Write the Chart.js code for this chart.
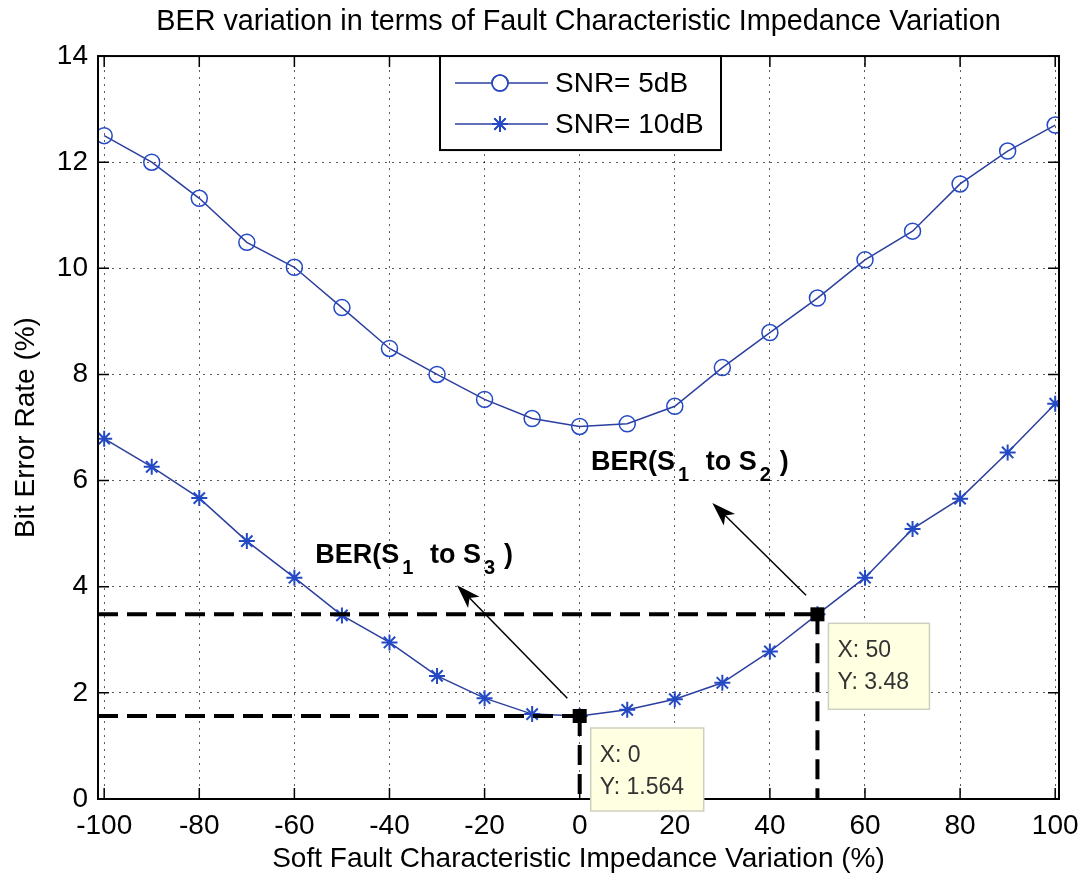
<!DOCTYPE html>
<html>
<head>
<meta charset="utf-8">
<script src="https://cdn.jsdelivr.net/npm/chart.js@4.4.0/dist/chart.umd.min.js"></script>
<style>
  html, body { margin: 0; padding: 0; background: #fff; }
  #wrap { width: 1079px; height: 878px; }
</style>
</head>
<body>
<div id="wrap"><canvas id="ber-chart" width="1079" height="878"></canvas></div>
<script>
// values
const impedanceVariation = [-100, -90, -80, -70, -60, -50, -40, -30, -20, -10, 0, 10, 20, 30, 40, 50, 60, 70, 80, 90, 100];
const berSnr5 = [12.50, 12.00, 11.32, 10.49, 10.02, 9.26, 8.49, 8.00, 7.53, 7.17, 7.02, 7.07, 7.40, 8.13, 8.79, 9.44, 10.16, 10.70, 11.59, 12.21, 12.70];
const berSnr10 = [6.79, 6.26, 5.67, 4.86, 4.17, 3.46, 2.95, 2.32, 1.90, 1.60, 1.564, 1.68, 1.88, 2.19, 2.78, 3.48, 4.17, 5.09, 5.66, 6.53, 7.45];
const seriesLabels = ['SNR= 5dB', 'SNR= 10dB'];
const xTickValues = [-100, -80, -60, -40, -20, 0, 20, 40, 60, 80, 100];
const yTickValues = [0, 2, 4, 6, 8, 10, 12, 14];

// data cursor points on the 10dB curve
const markedX = [0, 50];
const markedY = [1.564, 3.48];
// arrows and notes, in data units
const arrowTails = [[-2.6, 1.90], [47.6, 3.84]];
const arrowTips = [[-25.8, 4.03], [27.9, 5.58]];
const noteAnchors = [[-55.6, 4.45], [2.4, 6.2]];
const noteTargets = ['3', '2'];

const plotFont = "'Liberation Sans', Arial, Helvetica, sans-serif";
const lineBlue = '#2b3f9e';
const markerBlue = '#2449c4';

Chart.defaults.font.family = plotFont;
Chart.defaults.color = '#000';

function drawArrow(ctx, x0, y0, x1, y1) {
    const ang = Math.atan2(y1 - y0, x1 - x0);
    const len = 24, half = 8, notch = 6;
    ctx.beginPath();
    ctx.moveTo(x0, y0);
    ctx.lineTo(x1 - Math.cos(ang) * (len - notch), y1 - Math.sin(ang) * (len - notch));
    ctx.stroke();
    ctx.save();
    ctx.translate(x1, y1);
    ctx.rotate(ang);
    ctx.beginPath();
    ctx.moveTo(0, 0);
    ctx.lineTo(-len, -half);
    ctx.lineTo(-len + notch, 0);
    ctx.lineTo(-len, half);
    ctx.closePath();
    ctx.fill();
    ctx.restore();
}

function drawNote(ctx, x, y, target) {
    const parts = [['BER(S', false], ['1', true], [' to S', false], [target, true], [')', false]];
    let cx = x;
    ctx.textAlign = 'left';
    ctx.textBaseline = 'alphabetic';
    parts.forEach(([txt, sub]) => {
        ctx.font = sub ? `bold 20px ${plotFont}` : `bold 27px ${plotFont}`;
        if (sub) cx += 2;
        ctx.fillText(txt, cx, sub ? y + 11 : y);
        cx += ctx.measureText(txt).width + (sub ? 9 : 1);
    });
}

const matlabAxes = {
    id: 'matlabAxes',
    afterDraw(chart) {
        const ctx = chart.ctx;
        const {left, right, top, bottom} = chart.chartArea;
        const xs = chart.scales.x, ys = chart.scales.y;
        ctx.save();

        // box and inward ticks
        ctx.strokeStyle = '#000';
        ctx.lineWidth = 1.5;
        ctx.beginPath();
        xTickValues.forEach(v => {
            const px = xs.getPixelForValue(v);
            ctx.moveTo(px, bottom); ctx.lineTo(px, bottom - 11);
            ctx.moveTo(px, top); ctx.lineTo(px, top + 11);
        });
        yTickValues.forEach(v => {
            const py = ys.getPixelForValue(v);
            ctx.moveTo(left, py); ctx.lineTo(left + 11, py);
            ctx.moveTo(right, py); ctx.lineTo(right - 11, py);
        });
        ctx.stroke();
        ctx.lineWidth = 2;
        ctx.strokeRect(left, top, right - left, bottom - top);

        // dashed guide lines to the marked points
        ctx.lineWidth = 4;
        ctx.setLineDash([20, 9]);
        markedX.forEach((mx, i) => {
            const px = xs.getPixelForValue(mx), py = ys.getPixelForValue(markedY[i]);
            ctx.beginPath();
            ctx.moveTo(left, py); ctx.lineTo(px, py);
            ctx.moveTo(px, py); ctx.lineTo(px, bottom);
            ctx.stroke();
        });
        ctx.setLineDash([]);

        // data cursor squares and tips
        markedX.forEach((mx, i) => {
            const px = xs.getPixelForValue(mx), py = ys.getPixelForValue(markedY[i]);
            ctx.fillStyle = '#000';
            ctx.fillRect(px - 7, py - 7, 14, 14);
            const bx = px + 11, by = py + (i === 0 ? 12 : 9);
            const bw = i === 0 ? 113 : 101, bh = i === 0 ? 83 : 86;
            ctx.fillStyle = '#ffffe1';
            ctx.fillRect(bx, by, bw, bh);
            ctx.strokeStyle = '#cfcfbf';
            ctx.lineWidth = 1.5;
            ctx.strokeRect(bx, by, bw, bh);
            ctx.fillStyle = '#333';
            ctx.font = `23px ${plotFont}`;
            ctx.textAlign = 'left';
            ctx.textBaseline = 'alphabetic';
            ctx.fillText('X: ' + mx, bx + 9, by + 34);
            ctx.fillText('Y: ' + markedY[i], bx + 9, by + 66);
        });

        // arrows and bold notes
        ctx.strokeStyle = '#000';
        ctx.fillStyle = '#000';
        ctx.lineWidth = 1.5;
        arrowTails.forEach((t, i) => {
            drawArrow(ctx,
                xs.getPixelForValue(t[0]), ys.getPixelForValue(t[1]),
                xs.getPixelForValue(arrowTips[i][0]), ys.getPixelForValue(arrowTips[i][1]));
        });
        noteAnchors.forEach((a, i) => {
            drawNote(ctx, xs.getPixelForValue(a[0]), ys.getPixelForValue(a[1]), noteTargets[i]);
        });

        // legend box
        const lg = {left: 440, right: 721, top: top, bottom: top + 94};
        ctx.fillStyle = '#fff';
        ctx.fillRect(lg.left, lg.top, lg.right - lg.left, lg.bottom - lg.top);
        ctx.strokeStyle = '#000';
        ctx.lineWidth = 2;
        ctx.strokeRect(lg.left, lg.top, lg.right - lg.left, lg.bottom - lg.top);
        chart.data.datasets.forEach((ds, i) => {
            const ry = lg.top + 27 + i * 41;
            ctx.strokeStyle = ds.borderColor;
            ctx.lineWidth = ds.borderWidth;
            ctx.beginPath();
            ctx.moveTo(lg.left + 15, ry); ctx.lineTo(lg.left + 108, ry);
            ctx.stroke();
            Chart.helpers.drawPoint(ctx, {
                pointStyle: ds.pointStyle, radius: ds.pointRadius, borderWidth: ds.pointBorderWidth, rotation: 0
            }, lg.left + 60, ry);
            ctx.strokeStyle = ds.pointBorderColor;
            ctx.lineWidth = ds.pointBorderWidth;
            ctx.stroke();
            ctx.fillStyle = '#000';
            ctx.font = `28px ${plotFont}`;
            ctx.textAlign = 'left';
            ctx.textBaseline = 'middle';
            ctx.fillText(ds.label, lg.left + 115, ry + 1);
        });
        ctx.restore();
    }
};

const chart = new Chart(document.getElementById('ber-chart').getContext('2d'), {
    type: 'line',
    data: {
        datasets: [
            {
                label: seriesLabels[0],
                data: impedanceVariation.map((x, i) => ({x: x, y: berSnr5[i]})),
                borderColor: lineBlue,
                borderWidth: 1.5,
                pointStyle: 'circle',
                pointRadius: 8,
                pointBorderWidth: 1.5,
                pointBorderColor: markerBlue,
                pointBackgroundColor: 'rgba(0,0,0,0)',
                tension: 0
            },
            {
                label: seriesLabels[1],
                data: impedanceVariation.map((x, i) => ({x: x, y: berSnr10[i]})),
                borderColor: lineBlue,
                borderWidth: 1.5,
                pointStyle: 'star',
                pointRadius: 8,
                pointBorderWidth: 2,
                pointBorderColor: markerBlue,
                pointBackgroundColor: markerBlue,
                tension: 0
            }
        ]
    },
    options: {
        responsive: false,
        animation: false,
        devicePixelRatio: 1,
        layout: {padding: {left: 0, right: 20, top: 0, bottom: 0}},
        plugins: {
            legend: {display: false},
            tooltip: {enabled: false},
            title: {
                display: true,
                fullSize: false,
                text: 'BER variation in terms of Fault Characteristic Impedance Variation',
                color: '#000',
                font: {size: 28.8, weight: 'normal'},
                padding: {top: 4.5, bottom: 17}
            }
        },
        scales: {
            x: {
                type: 'linear',
                min: -101.3,
                max: 100.8,
                afterBuildTicks: s => { s.ticks = xTickValues.map(v => ({value: v})); },
                afterFit: s => { s.height = 79; s.paddingLeft = 0; s.paddingRight = 0; },
                ticks: {font: {size: 28}, color: '#000', padding: 10, maxRotation: 0, autoSkip: false},
                grid: {color: 'rgba(0,0,0,0.65)', lineWidth: 1, drawTicks: false},
                border: {display: false, dash: [2, 5]},
                title: {
                    display: true,
                    text: 'Soft Fault Characteristic Impedance Variation (%)',
                    font: {size: 28},
                    color: '#000',
                    padding: {top: 0, bottom: 2}
                }
            },
            y: {
                min: 0,
                max: 14,
                afterBuildTicks: s => { s.ticks = yTickValues.map(v => ({value: v})); },
                afterFit: s => { s.width = 98; s.paddingTop = 0; s.paddingBottom = 0; },
                ticks: {font: {size: 28}, color: '#000', padding: 10},
                grid: {color: 'rgba(0,0,0,0.65)', lineWidth: 1, drawTicks: false},
                border: {display: false, dash: [2, 5]},
                title: {
                    display: true,
                    text: 'Bit Error Rate (%)',
                    font: {size: 28},
                    color: '#000',
                    padding: {top: 9, bottom: 0}
                }
            }
        }
    },
    plugins: [matlabAxes]
});
</script>
</body>
</html>
